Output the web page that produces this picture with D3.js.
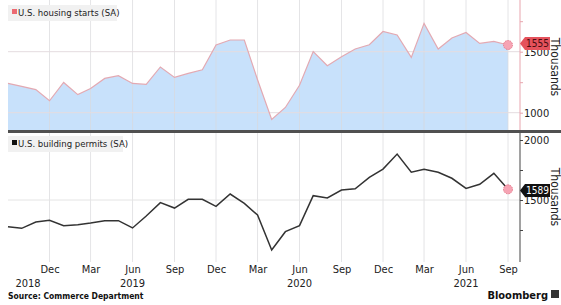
<!DOCTYPE html>
<html>
<head>
<meta charset="utf-8">
<script src="https://cdn.jsdelivr.net/npm/d3@7"></script>
<style>
  body { margin: 0; background: #fff; }
  text { font-family: "DejaVu Sans Condensed", "DejaVu Sans", sans-serif; }
</style>
</head>
<body>
<div id="chart"></div>
<script>
// months, Sep 2018 .. Sep 2021
var months = d3.timeMonths(new Date(2018, 8, 1), new Date(2021, 9, 1));

// U.S. housing starts (SA), thousands
var starts = [1240, 1216, 1189, 1098, 1248, 1148, 1199, 1281, 1303, 1240, 1232, 1375, 1289,
  1322, 1352, 1555, 1596, 1596, 1270, 944, 1043, 1225, 1502, 1385, 1459,
  1522, 1557, 1666, 1637, 1453, 1732, 1522, 1612, 1658, 1568, 1584, 1555];

// U.S. building permits (SA), thousands
var permits = [1278, 1264, 1317, 1331, 1286, 1294, 1308, 1328, 1328, 1267, 1367, 1478, 1433,
  1506, 1506, 1447, 1550, 1472, 1375, 1083, 1236, 1286, 1536, 1517, 1583,
  1594, 1689, 1758, 1883, 1731, 1756, 1731, 1681, 1597, 1631, 1722, 1589];

var tickDates = d3.timeMonths(new Date(2018, 11, 1), new Date(2021, 9, 1), 3);
var years = [2018, 2019, 2020, 2021];
var topTicks = [1000, 1500], topMinor = [1250, 1750];
var botTicks = [1500, 2000], botMinor = [1250, 1750];

var svgWidth = 561, svgHeight = 305;
var left = 8, right = 520;

var svg = d3.select("#chart").append("svg")
  .attr("width", svgWidth)
  .attr("height", svgHeight);

var x = d3.scaleTime()
  .domain([months[0], months[months.length - 1]])
  .range([left, 508]);

// top panel 0..130, bottom panel 133..262
var yTop = d3.scaleLinear().domain([1000, 1500]).range([112.7, 51.7]);
var yBot = d3.scaleLinear().domain([1500, 2000]).range([200, 140]);

var startsData = months.map((d, i) => ({date: d, v: starts[i]}));
var permitsData = months.map((d, i) => ({date: d, v: permits[i]}));

// area for housing starts
svg.append("path")
  .datum(startsData)
  .attr("fill", "#c8e1fb")
  .attr("d", d3.area().x(d => x(d.date)).y0(130).y1(d => yTop(d.v)));

// vertical grid
svg.append("g").selectAll("line")
  .data(tickDates)
  .enter().append("line")
  .attr("x1", d => x(d)).attr("x2", d => x(d))
  .attr("y1", 0).attr("y2", 262)
  .attr("stroke", "#d8d8dc")
  .attr("stroke-opacity", 0.7);

// horizontal grid
svg.append("g").selectAll("line")
  .data(topTicks)
  .enter().append("line")
  .attr("x1", left).attr("x2", right)
  .attr("y1", d => yTop(d)).attr("y2", d => yTop(d))
  .attr("stroke", "#e4dcdf");

svg.append("line")
  .attr("x1", left).attr("x2", right)
  .attr("y1", yBot(1500)).attr("y2", yBot(1500))
  .attr("stroke", "#e4e4e4");

// lines
svg.append("path")
  .datum(startsData)
  .attr("fill", "none")
  .attr("stroke", "#e3a9b2")
  .attr("stroke-width", 1.2)
  .attr("d", d3.line().x(d => x(d.date)).y(d => yTop(d.v)));

svg.append("path")
  .datum(permitsData)
  .attr("fill", "none")
  .attr("stroke", "#333")
  .attr("stroke-width", 1.5)
  .attr("d", d3.line().x(d => x(d.date)).y(d => yBot(d.v)));

// separator
svg.append("rect")
  .attr("x", left).attr("y", 130)
  .attr("width", svgWidth - left).attr("height", 3)
  .attr("fill", "#505050");

// right axes
var topAxis = svg.append("g")
  .attr("transform", `translate(${right},0)`)
  .call(d3.axisRight(yTop).tickValues(topTicks.concat(topMinor)).tickSize(3)
    .tickFormat(d => topTicks.includes(d) ? d : ""));
topAxis.select(".domain").attr("d", "M0,0V130").attr("stroke", "#e8a5ae");
topAxis.selectAll(".tick line").attr("stroke", "#e8a5ae");

var botAxis = svg.append("g")
  .attr("transform", `translate(${right},0)`)
  .call(d3.axisRight(yBot).tickValues(botTicks.concat(botMinor)).tickSize(3)
    .tickFormat(d => botTicks.includes(d) ? d : ""));
botAxis.select(".domain").attr("d", "M0,133V262").attr("stroke", "#444");
botAxis.selectAll(".tick line").attr("stroke", "#444");

svg.selectAll(".tick text")
  .attr("x", 4)
  .attr("font-size", "11px")
  .attr("fill", "#222")
  .style("font-family", "'DejaVu Sans Condensed', sans-serif");

// Thousands labels
[67, 197].forEach(function(cy) {
  svg.append("text")
    .attr("transform", `translate(551, ${cy}) rotate(90)`)
    .attr("text-anchor", "middle")
    .attr("font-size", "12px")
    .attr("fill", "#222")
    .text("Thousands");
});

// end markers
svg.append("circle")
  .attr("cx", x(months[months.length - 1]))
  .attr("cy", yTop(starts[starts.length - 1]))
  .attr("r", 4.5)
  .attr("fill", "#f6a4b4")
  .attr("stroke", "#e57587")
  .attr("stroke-dasharray", "1.5,1");

svg.append("circle")
  .attr("cx", x(months[months.length - 1]))
  .attr("cy", yBot(permits[permits.length - 1]))
  .attr("r", 4.5)
  .attr("fill", "#f6a4b4")
  .attr("stroke", "#e57587")
  .attr("stroke-dasharray", "1.5,1");

// value callouts
function callout(cy, val, fill, color) {
  var g = svg.append("g").attr("transform", `translate(520, ${cy})`);
  g.append("path")
    .attr("d", "M0,0L5,-6.5H30V6.5H5Z")
    .attr("fill", fill);
  g.append("text")
    .attr("x", 17.5).attr("y", 3.8)
    .attr("text-anchor", "middle")
    .attr("font-size", "10px")
    .attr("fill", color)
    .text(val);
}
callout(43.5, starts[starts.length - 1], "#e5525c", "#4a0d10");
callout(190.5, permits[permits.length - 1], "#111", "#fff");

// legends
function legend(y, label, color, w) {
  svg.append("rect")
    .attr("x", left).attr("y", y)
    .attr("width", w).attr("height", 16)
    .attr("fill", "#f1f1f1");
  svg.append("rect")
    .attr("x", 12).attr("y", y + 4)
    .attr("width", 5).attr("height", 5)
    .attr("fill", color);
  svg.append("text")
    .attr("x", 18).attr("y", y + 11)
    .attr("font-size", "9.5px")
    .attr("fill", "#222")
    .text(label);
}
legend(5, "U.S. housing starts (SA)", "#ec6a72", 109);
legend(136, "U.S. building permits (SA)", "#111", 115);

// x axis labels
var xAxis = svg.append("g")
  .attr("transform", "translate(0,262)")
  .call(d3.axisBottom(x).tickValues(tickDates).tickSize(0).tickFormat(d3.timeFormat("%b")));
xAxis.select(".domain").remove();
xAxis.selectAll("text")
  .attr("y", 3)
  .attr("font-size", "11px")
  .attr("fill", "#222")
  .style("font-family", "'DejaVu Sans Condensed', sans-serif");

svg.append("g").selectAll("text")
  .data(years)
  .enter().append("text")
  .attr("x", d => Math.max(x(new Date(d, 5, 1)), 28))
  .attr("y", 287)
  .attr("text-anchor", "middle")
  .attr("font-size", "11px")
  .attr("fill", "#222")
  .text(d => d);

// footer
svg.append("text")
  .attr("x", 8).attr("y", 299)
  .attr("font-size", "8.5px")
  .attr("font-weight", "bold")
  .attr("fill", "#111")
  .text("Source: Commerce Department");

svg.append("text")
  .attr("x", 548).attr("y", 299)
  .attr("text-anchor", "end")
  .attr("font-size", "11px")
  .attr("font-weight", "bold")
  .attr("fill", "#111")
  .text("Bloomberg");
svg.append("rect")
  .attr("x", 551).attr("y", 290)
  .attr("width", 8).attr("height", 8)
  .attr("fill", "#333");
</script>
</body>
</html>
